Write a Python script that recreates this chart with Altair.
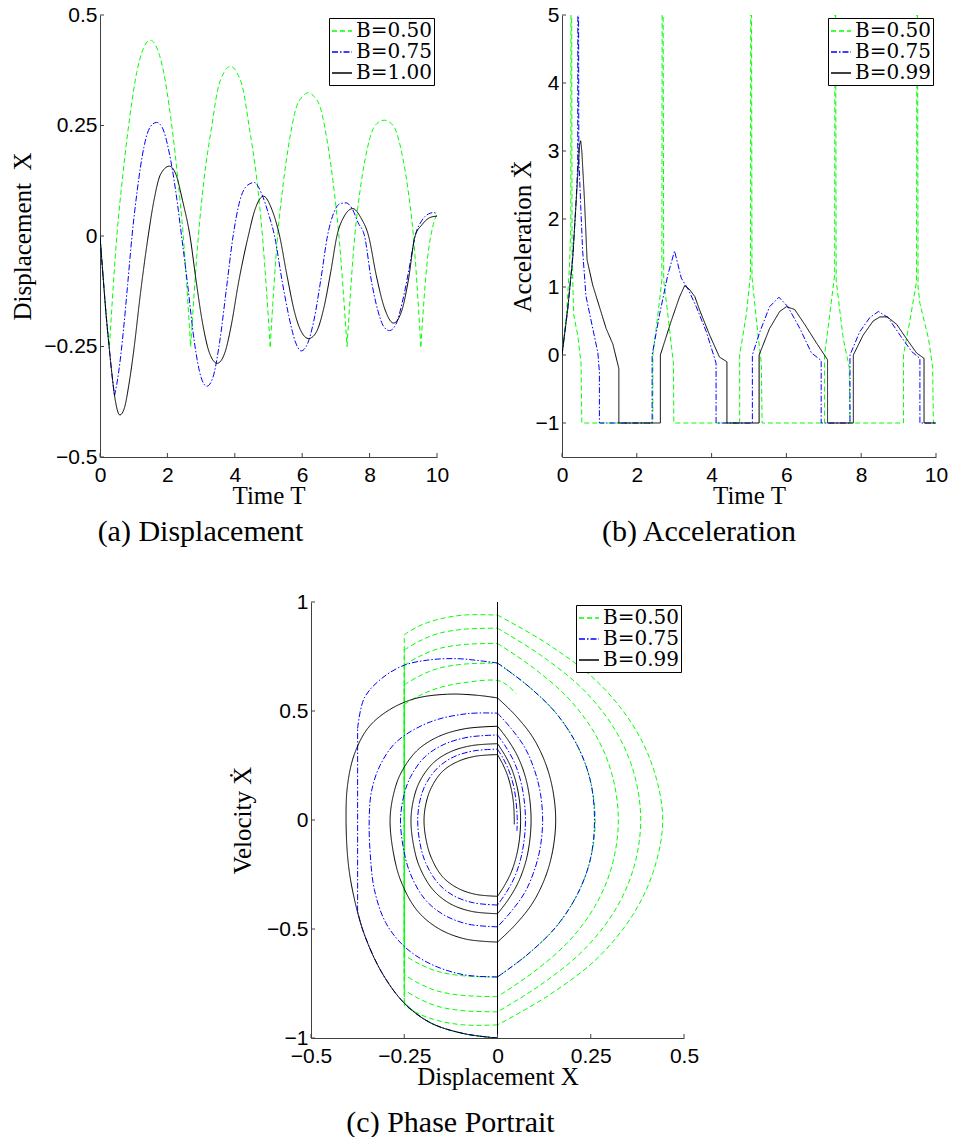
import altair as alt
import pandas as pd

# ---------------- legend labels / styles ----------------
LEG_A = ["B=0.50", "B=0.75", "B=1.00"]
LEG_BC = ["B=0.50", "B=0.75", "B=0.99"]
COLORS = ["#00ff00", "#0000ff", "#000000"]
DASHES = [[5, 3], [6, 2, 1.5, 2], [1, 0]]

# ---------------- (a) Displacement: (time, X) ----------------
A_GREEN = [
    [(0, 0), (0.1, -0.1), (0.2, -0.19), (0.28, -0.25)],
    [(0.28, -0.25), (0.5, 0), (0.68, 0.14), (0.885, 0.27), (1.09, 0.37), (1.29, 0.425), (1.49, 0.443),
     (1.69, 0.425), (1.89, 0.37), (2.095, 0.27), (2.295, 0.14), (2.47, 0), (2.69, -0.25)],
    [(2.69, -0.25), (2.92, 0), (3.09, 0.13), (3.32, 0.25), (3.49, 0.33), (3.68, 0.37), (3.87, 0.384),
     (4.06, 0.37), (4.25, 0.33), (4.42, 0.25), (4.65, 0.13), (4.82, 0), (5.05, -0.25)],
    [(5.05, -0.25), (5.27, 0), (5.44, 0.12), (5.63, 0.22), (5.82, 0.29), (6.0, 0.315), (6.18, 0.324),
     (6.36, 0.315), (6.54, 0.29), (6.73, 0.22), (6.92, 0.12), (7.09, 0), (7.33, -0.25)],
    [(7.33, -0.25), (7.56, 0), (7.73, 0.11), (7.91, 0.19), (8.09, 0.24), (8.26, 0.257), (8.43, 0.262),
     (8.6, 0.257), (8.77, 0.24), (8.95, 0.19), (9.13, 0.11), (9.3, 0), (9.52, -0.25)],
    [(9.52, -0.25), (9.72, -0.05), (9.87, 0.02), (10, 0.05)],
]
A_BLUE = [
    [(0, 0), (0.1, -0.1), (0.2, -0.195), (0.27, -0.25), (0.35, -0.31), (0.43, -0.362)],
    [(0.43, -0.362), (0.55, -0.31), (0.7, -0.21), (0.82, -0.11), (0.95, 0), (1.1, 0.1), (1.3, 0.2),
     (1.5, 0.248), (1.68, 0.257), (1.85, 0.245), (2.05, 0.19), (2.25, 0.1), (2.42, 0), (2.6, -0.11),
     (2.8, -0.24), (3.0, -0.32), (3.17, -0.34), (3.35, -0.32), (3.55, -0.24), (3.75, -0.12), (3.95, 0),
     (4.15, 0.08), (4.38, 0.115), (4.58, 0.121), (4.8, 0.095), (5.0, 0.05), (5.18, 0), (5.4, -0.1),
     (5.6, -0.18), (5.8, -0.24), (5.97, -0.26), (6.15, -0.245), (6.35, -0.19), (6.55, -0.1), (6.75, 0),
     (6.95, 0.055), (7.12, 0.073), (7.3, 0.075), (7.48, 0.062), (7.66, 0.03), (7.85, 0), (8.05, -0.1),
     (8.25, -0.17), (8.42, -0.205), (8.59, -0.214), (8.78, -0.2), (8.97, -0.15), (9.17, -0.075),
     (9.35, 0), (9.55, 0.035), (9.75, 0.05), (9.9, 0.053), (10, 0.05)],
]
A_BLACK = [
    [(0, 0), (0.1, -0.1), (0.2, -0.195), (0.27, -0.25), (0.35, -0.31), (0.45, -0.37), (0.59, -0.405),
     (0.72, -0.39), (0.86, -0.335), (1.0, -0.26), (1.2, -0.13), (1.43, 0), (1.6, 0.08), (1.8, 0.14),
     (2.06, 0.158), (2.25, 0.14), (2.45, 0.08), (2.67, 0), (2.85, -0.1), (3.05, -0.2), (3.25, -0.265),
     (3.48, -0.288), (3.7, -0.265), (3.9, -0.2), (4.1, -0.11), (4.4, 0), (4.6, 0.06), (4.85, 0.09),
     (5.1, 0.06), (5.33, 0), (5.55, -0.09), (5.8, -0.18), (6.0, -0.22), (6.19, -0.232), (6.4, -0.22),
     (6.65, -0.16), (6.85, -0.08), (7.03, 0), (7.25, 0.045), (7.5, 0.062), (7.75, 0.04), (7.97, 0),
     (8.2, -0.09), (8.45, -0.165), (8.71, -0.197), (8.95, -0.17), (9.15, -0.1), (9.35, 0),
     (9.55, 0.025), (9.8, 0.042), (10, 0.045)],
]

# ---------------- (b) Acceleration: (time, Xddot) ----------------
B_GREEN = [[
    (0, 0), (0.12, 0.6), (0.2, 1.3), (0.235, 1.9), (0.24, 6), (0.255, 6), (0.27, 1.5), (0.31, 0.6),
    (0.42, 0.29), (0.51, -0.13), (0.53, -1), (2.43, -1), (2.43, 0), (2.6, 0.76), (2.67, 1.1), (2.68, 6),
    (2.7, 6), (2.72, 1.1), (2.85, 0.5), (2.98, -0.13), (2.99, -1), (4.75, -1), (4.75, 0), (4.93, 0.6),
    (5.04, 1.18), (5.05, 6), (5.065, 6), (5.08, 1.15), (5.2, 0.5), (5.33, -0.13), (5.35, -1), (7.02, -1),
    (7.02, 0), (7.16, 0.6), (7.29, 1.18), (7.3, 6), (7.315, 6), (7.33, 1.1), (7.52, 0.24), (7.68, -0.18),
    (7.7, -1), (9.13, -1), (9.13, 0), (9.3, 0.5), (9.48, 1.08), (9.49, 6), (9.505, 6), (9.52, 1.0),
    (9.57, 0.76), (9.8, 0.24), (9.91, -0.18), (9.93, -1), (10, -1)]]
B_BLUE = [[
    (0, 0), (0.15, 0.66), (0.29, 1.45), (0.38, 2.3), (0.42, 2.8), (0.425, 6), (0.44, 6), (0.45, 2.9),
    (0.5, 2.2), (0.55, 1.55), (0.64, 0.87), (0.78, 0.5), (0.96, 0.03), (1.0, -0.25), (1.0, -1), (2.41, -1),
    (2.41, 0), (2.61, 0.6), (2.83, 1.18), (3.01, 1.53), (3.19, 1.13), (3.37, 0.97), (3.59, 0.71),
    (3.86, 0.34), (4.12, -0.12), (4.12, -1), (5.09, -1), (5.09, 0), (5.29, 0.34), (5.55, 0.71),
    (5.8, 0.85), (6.04, 0.71), (6.36, 0.39), (6.67, 0.03), (6.93, -0.08), (6.93, -1), (7.7, -1), (7.7, 0),
    (7.96, 0.34), (8.23, 0.55), (8.46, 0.64), (8.72, 0.55), (9.04, 0.29), (9.35, 0.05), (9.57, -0.05),
    (9.57, -1), (10, -1)]]
B_BLACK = [[
    (0, 0), (0.15, 0.66), (0.29, 1.45), (0.4, 2.45), (0.47, 3.1), (0.5, 3.15), (0.53, 3.0), (0.6, 2.29),
    (0.67, 1.4), (0.82, 1.03), (1.0, 0.71), (1.18, 0.39), (1.36, 0.16), (1.52, -0.2), (1.52, -1),
    (2.63, -1), (2.63, 0), (2.92, 0.5), (3.14, 0.85), (3.28, 1.02), (3.4, 0.97), (3.55, 0.86),
    (3.68, 0.66), (3.95, 0.29), (4.21, -0.03), (4.41, -0.1), (4.41, -1), (5.27, -1), (5.27, 0),
    (5.55, 0.39), (5.82, 0.64), (6.0, 0.71), (6.22, 0.67), (6.49, 0.45), (6.8, 0.18), (7.1, -0.07),
    (7.1, -1), (7.79, -1), (7.79, 0), (8.05, 0.29), (8.32, 0.5), (8.5, 0.56), (8.7, 0.56), (8.95, 0.45),
    (9.21, 0.24), (9.48, 0.03), (9.68, -0.05), (9.68, -1), (10, -1)]]

# ---------------- (c) Phase portrait: (X, Xdot) ----------------
C_GREEN = [
    [(0, -1), (-0.09, -0.98), (-0.18, -0.93), (-0.25, -0.84)],
    [(-0.25, -0.84), (-0.25, 0.85)],
    [(-0.25, 0.85), (-0.21, 0.89), (-0.16, 0.92), (-0.09, 0.94), (0, 0.94)],
    [(0, 0.94), (0.132, 0.81), (0.264, 0.64), (0.361, 0.44), (0.418, 0.235), (0.443, 0), (0.418, -0.235),
     (0.361, -0.44), (0.264, -0.64), (0.132, -0.81), (0, -0.94)],
    [(0, -0.94), (-0.09, -0.94), (-0.16, -0.92), (-0.21, -0.89), (-0.25, -0.85)],
    [(-0.25, -0.85), (-0.25, 0.78)],
    [(-0.25, 0.78), (-0.21, 0.82), (-0.16, 0.855), (-0.09, 0.875), (0, 0.88)],
    [(0, 0.88), (0.115, 0.757), (0.23, 0.598), (0.315, 0.414), (0.365, 0.22), (0.384, 0), (0.365, -0.22),
     (0.315, -0.414), (0.23, -0.598), (0.115, -0.757), (0, -0.88)],
    [(0, -0.88), (-0.09, -0.875), (-0.16, -0.855), (-0.21, -0.82), (-0.25, -0.78)],
    [(-0.25, -0.78), (-0.25, 0.71)],
    [(-0.25, 0.71), (-0.21, 0.75), (-0.16, 0.785), (-0.09, 0.805), (0, 0.81)],
    [(0, 0.81), (0.097, 0.697), (0.194, 0.551), (0.266, 0.381), (0.308, 0.2025), (0.324, 0),
     (0.308, -0.2025), (0.266, -0.381), (0.194, -0.551), (0.097, -0.697), (0, -0.81)],
    [(0, -0.81), (-0.09, -0.805), (-0.16, -0.785), (-0.21, -0.75), (-0.25, -0.71)],
    [(-0.25, -0.71), (-0.25, 0.62)],
    [(-0.25, 0.62), (-0.21, 0.66), (-0.16, 0.695), (-0.09, 0.715), (0, 0.72)],
    [(0, 0.72), (0.079, 0.619), (0.157, 0.49), (0.215, 0.338), (0.249, 0.18), (0.262, 0), (0.249, -0.18),
     (0.215, -0.338), (0.157, -0.49), (0.079, -0.619), (0, -0.72)],
    [(0, -0.72), (-0.09, -0.715), (-0.16, -0.695), (-0.21, -0.66), (-0.25, -0.62)],
    [(-0.25, -0.62), (-0.25, 0.53)],
    [(-0.25, 0.53), (-0.21, 0.57), (-0.16, 0.605), (-0.09, 0.63), (0, 0.64), (0.025, 0.62), (0.05, 0.58)],
]
C_BLUE = [
    [(0, -1), (-0.09, -0.98), (-0.18, -0.93), (-0.25, -0.84), (-0.31, -0.70), (-0.357, -0.525),
     (-0.375, -0.42)],
    [(-0.375, -0.42), (-0.375, 0.42)],
    [(-0.375, 0.42), (-0.357, 0.56), (-0.31, 0.65), (-0.25, 0.71), (-0.18, 0.735), (-0.107, 0.74),
     (-0.045, 0.73), (0, 0.72)],
    [(0, 0.72), (0.079, 0.619), (0.157, 0.49), (0.215, 0.338), (0.249, 0.18), (0.26, 0), (0.249, -0.18),
     (0.215, -0.338), (0.157, -0.49), (0.079, -0.619), (0, -0.72)],
    [(0, -0.72), (-0.09, -0.71), (-0.18, -0.66), (-0.25, -0.58), (-0.3, -0.47), (-0.33, -0.32),
     (-0.341, -0.16), (-0.344, 0), (-0.338, 0.13), (-0.315, 0.25), (-0.27, 0.36), (-0.18, 0.45),
     (-0.08, 0.488), (0, 0.49)],
    [(0, 0.49), (0.036, 0.421), (0.073, 0.333), (0.099, 0.23), (0.115, 0.1225), (0.121, 0),
     (0.115, -0.1225), (0.099, -0.23), (0.073, -0.333), (0.036, -0.421), (0, -0.49)],
    [(0, -0.49), (-0.078, -0.478), (-0.143, -0.436), (-0.195, -0.363), (-0.234, -0.245), (-0.252, -0.132),
     (-0.26, 0), (-0.252, 0.105), (-0.234, 0.195), (-0.195, 0.289), (-0.143, 0.347), (-0.078, 0.38),
     (0, 0.39)],
    [(0, 0.39), (0.0225, 0.335), (0.045, 0.265), (0.0615, 0.183), (0.071, 0.0975), (0.075, 0),
     (0.071, -0.0975), (0.0615, -0.183), (0.045, -0.265), (0.0225, -0.335), (0, -0.39)],
    [(0, -0.39), (-0.064, -0.38), (-0.118, -0.347), (-0.16, -0.289), (-0.193, -0.195), (-0.208, -0.105),
     (-0.214, 0), (-0.208, 0.088), (-0.193, 0.1625), (-0.16, 0.24), (-0.118, 0.289), (-0.064, 0.317),
     (0, 0.325)],
    [(0, 0.325), (0.016, 0.28), (0.032, 0.22), (0.044, 0.15), (0.05, 0.08), (0.053, 0.0), (0.052, -0.05)],
]
C_BLACK = [
    [(0, 1), (0, -1)],
    [(0, -1), (-0.09, -0.98), (-0.18, -0.93), (-0.25, -0.84), (-0.31, -0.70), (-0.357, -0.525),
     (-0.384, -0.36), (-0.4, -0.2), (-0.406, 0), (-0.402, 0.16), (-0.384, 0.30), (-0.348, 0.42),
     (-0.295, 0.5), (-0.223, 0.556), (-0.134, 0.577), (-0.054, 0.572), (0, 0.56)],
    [(0, 0.56), (0.047, 0.482), (0.094, 0.381), (0.128, 0.263), (0.148, 0.14), (0.156, 0), (0.148, -0.14),
     (0.128, -0.263), (0.094, -0.381), (0.047, -0.482), (0, -0.56)],
    [(0, -0.56), (-0.086, -0.546), (-0.158, -0.498), (-0.216, -0.414), (-0.259, -0.28), (-0.279, -0.151),
     (-0.288, 0), (-0.279, 0.116), (-0.259, 0.215), (-0.216, 0.318), (-0.158, 0.383), (-0.086, 0.419),
     (0, 0.43)],
    [(0, 0.43), (0.027, 0.37), (0.054, 0.292), (0.074, 0.202), (0.0855, 0.1075), (0.09, 0),
     (0.0855, -0.1075), (0.074, -0.202), (0.054, -0.292), (0.027, -0.37), (0, -0.43)],
    [(0, -0.43), (-0.07, -0.419), (-0.128, -0.383), (-0.174, -0.318), (-0.209, -0.215), (-0.225, -0.116),
     (-0.232, 0), (-0.225, 0.0945), (-0.209, 0.175), (-0.174, 0.259), (-0.128, 0.3115), (-0.07, 0.341),
     (0, 0.35)],
    [(0, 0.35), (0.0186, 0.301), (0.0372, 0.238), (0.0508, 0.1645), (0.0589, 0.0875), (0.062, 0),
     (0.0589, -0.0875), (0.0508, -0.1645), (0.0372, -0.238), (0.0186, -0.301), (0, -0.35)],
    [(0, -0.35), (-0.059, -0.341), (-0.108, -0.3115), (-0.148, -0.259), (-0.177, -0.175), (-0.191, -0.0945),
     (-0.197, 0), (-0.191, 0.081), (-0.177, 0.15), (-0.148, 0.222), (-0.108, 0.267), (-0.059, 0.2925),
     (0, 0.30)],
    [(0, 0.30), (0.0135, 0.258), (0.027, 0.204), (0.037, 0.141), (0.043, 0.075), (0.045, 0.0),
     (0.045, -0.02)],
]

# axis tick values
TICKS_T = [0, 2, 4, 6, 8, 10]
TICKS_A_Y = [-0.5, -0.25, 0, 0.25, 0.5]
TICKS_B_Y = [-1, 0, 1, 2, 3, 4, 5]
TICKS_C_X = [-0.5, -0.25, 0, 0.25, 0.5]
TICKS_C_Y = [-1, -0.5, 0, 0.5, 1]


def build_df(series, labels):
    rows = []
    for si, segs in enumerate(series):
        for k, seg in enumerate(segs):
            for i, (x, y) in enumerate(seg):
                rows.append({"series": labels[si], "seg": si * 100 + k, "i": i, "x": x, "y": y})
    return pd.DataFrame(rows)


def panel(series, labels, xdom, ydom, xticks, yticks, w, h, xtitle, ytitle, ytpad,
          caption, cap_dx, cap_off, interp):
    df = build_df(series, labels)
    xs = alt.Scale(domain=xdom, nice=False, zero=False)
    ys = alt.Scale(domain=ydom, nice=False, zero=False)
    xax = alt.Axis(values=xticks, format=".2~f", title=xtitle)
    yax = alt.Axis(values=yticks, format=".2~f", title=ytitle, titlePadding=ytpad)
    leg = dict(
        title=None, orient="top-right", offset=3, strokeColor="black", fillColor="white",
        padding=2, symbolType="stroke", symbolSize=400, symbolStrokeWidth=1.5,
        labelFont="DejaVu Serif", labelFontSize=20, labelColor="black",
        rowPadding=0, labelOffset=3,
    )
    lines = alt.Chart(df).mark_line(clip=True, strokeWidth=1, interpolate=interp).encode(
        x=alt.X("x:Q", scale=xs, axis=xax),
        y=alt.Y("y:Q", scale=ys, axis=yax),
        color=alt.Color("series:N", scale=alt.Scale(domain=labels, range=COLORS),
                        legend=alt.Legend(**leg)),
        strokeDash=alt.StrokeDash("series:N", scale=alt.Scale(domain=labels, range=DASHES),
                                  legend=alt.Legend(**leg)),
        detail=alt.Detail("seg:N"),
        order=alt.Order("i:Q"),
    )
    # inward tick marks (MATLAB style), positioned through the same scales
    xt = alt.Chart(pd.DataFrame({"x": xticks})).mark_rule(color="#404040", strokeWidth=1).encode(
        x=alt.X("x:Q", scale=xs, axis=xax), y=alt.value(h), y2=alt.value(h - 4))
    yt = alt.Chart(pd.DataFrame({"y": yticks})).mark_rule(color="#404040", strokeWidth=1).encode(
        y=alt.Y("y:Q", scale=ys, axis=yax), x=alt.value(0), x2=alt.value(4))
    return alt.layer(lines, xt, yt).properties(
        width=w, height=h,
        title=alt.TitleParams(caption, orient="bottom", anchor="middle", frame="group", dx=cap_dx,
                              offset=cap_off, font="Liberation Serif", fontSize=30,
                              fontWeight="normal", color="black"),
    )


pa = panel([A_GREEN, A_BLUE, A_BLACK], LEG_A, [0, 10], [-0.5, 0.5], TICKS_T, TICKS_A_Y, 337, 442,
           "Time T", "Displacement\u2002X", 8, "(a) Displacement", -68, 9, "monotone")
pb = panel([B_GREEN, B_BLUE, B_BLACK], LEG_BC, [0, 10], [-1.5, 5], TICKS_T, TICKS_B_Y, 374, 442,
           "Time T", "Acceleration \u1E8C", 0, "(b) Acceleration", -50, 9, "linear")
pc = panel([C_GREEN, C_BLUE, C_BLACK], LEG_BC, [-0.5, 0.5], [-1, 1], TICKS_C_X, TICKS_C_Y, 373, 436,
           "Displacement X", "Velocity \u1E8A", 11, "(c) Phase Portrait", -47, 19, "catmull-rom")

spacer = alt.Chart(pd.DataFrame({"s": [0]})).mark_point(opacity=0).encode(
    x=alt.X("s:Q", axis=None), y=alt.Y("s:Q", axis=None)).properties(width=130, height=10)

indep = dict(color="independent", strokeDash="independent")
top = alt.hconcat(pa, pb, spacing=61).resolve_scale(**indep)
bottom = alt.hconcat(spacer, pc, spacing=0).resolve_scale(**indep)

chart = alt.vconcat(top, bottom, spacing=44).resolve_scale(**indep).properties(
    padding={"left": 10, "top": 4, "right": 2, "bottom": 2}
).configure_view(stroke=None).configure_axis(
    domainColor="#404040", domainWidth=1, tickSize=0, tickColor="transparent", grid=False,
    labelFont="Liberation Sans", labelFontSize=21, labelColor="black",
    titleFont="Liberation Serif", titleFontSize=25, titleFontWeight="normal", titleColor="black",
    labelFlush=False, labelOverlap=False,
).configure_axisX(labelPadding=7, titlePadding=-2).configure_axisY(labelPadding=3)

chart.save("out.html", embed_options={"renderer": "svg", "actions": False})
